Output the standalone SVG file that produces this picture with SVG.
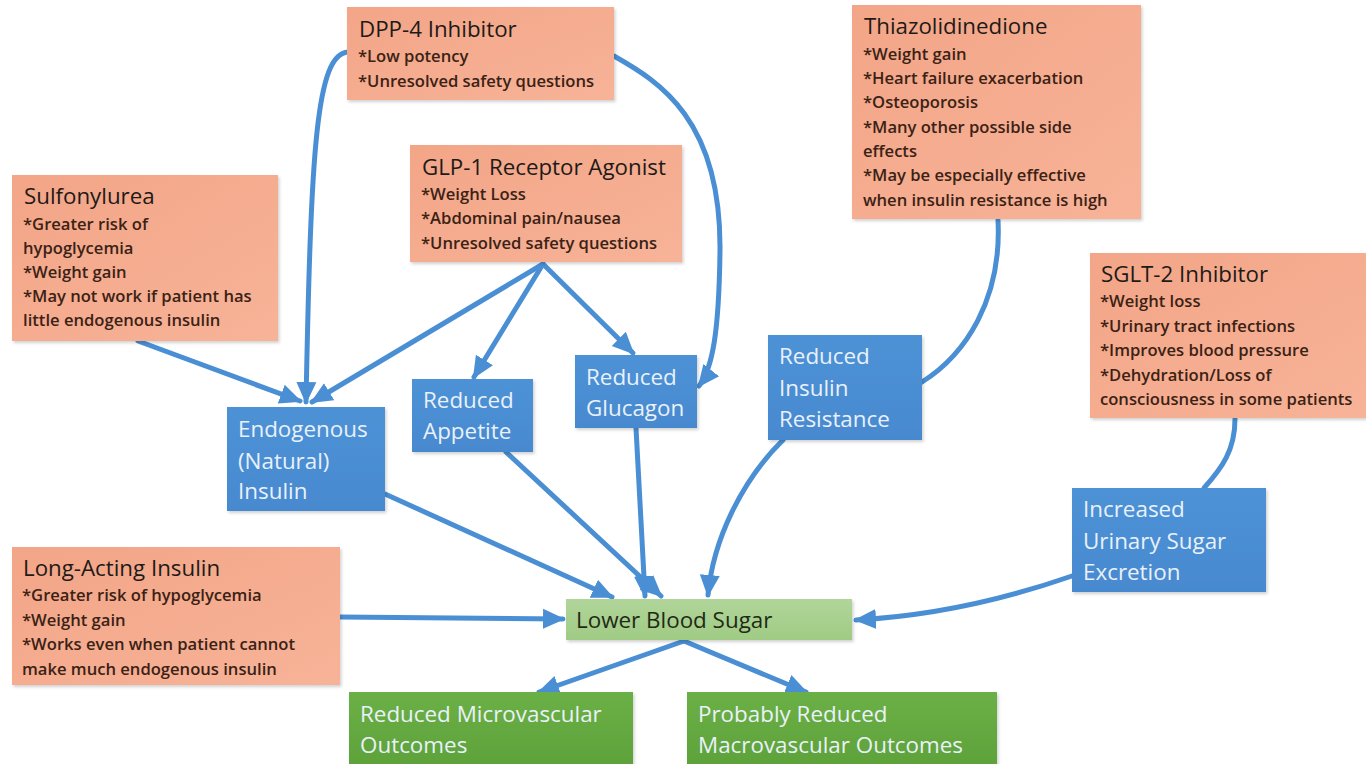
<svg xmlns="http://www.w3.org/2000/svg" width="1366" height="764" viewBox="0 0 1366 764">
  <defs>
    <linearGradient id="orangeFill" x1="0" y1="0" x2="1" y2="1">
      <stop offset="0" stop-color="#f3a587"/>
      <stop offset="1" stop-color="#f7b398"/>
    </linearGradient>
    <linearGradient id="blueFill" x1="0" y1="0" x2="0" y2="1">
      <stop offset="0" stop-color="#4e92d6"/>
      <stop offset="1" stop-color="#4789cf"/>
    </linearGradient>
    <linearGradient id="lightGreenFill" x1="0" y1="0" x2="0" y2="1">
      <stop offset="0" stop-color="#b1d59a"/>
      <stop offset="1" stop-color="#9fcb84"/>
    </linearGradient>
    <linearGradient id="greenFill" x1="0" y1="0" x2="0" y2="1">
      <stop offset="0" stop-color="#6bb046"/>
      <stop offset="1" stop-color="#5ea23a"/>
    </linearGradient>
    <filter id="shadow" x="-5%" y="-5%" width="112%" height="115%">
      <feDropShadow dx="1.5" dy="2" stdDeviation="1.5" flood-color="#000" flood-opacity="0.18"/>
    </filter>
    <marker id="arrow" markerUnits="userSpaceOnUse" markerWidth="24" markerHeight="22" refX="20" refY="11" orient="auto">
      <path d="M0,1 L22,11 L0,21 Z" fill="#4a8fd4"/>
    </marker>
  </defs>
  <style>
    .orange { fill: url(#orangeFill); filter: url(#shadow); }
    .blue { fill: url(#blueFill); filter: url(#shadow); }
    .lgreen { fill: url(#lightGreenFill); filter: url(#shadow); }
    .green { fill: url(#greenFill); filter: url(#shadow); }
    text { font-family: "Open Sans", "Liberation Sans", sans-serif; }
    .title { font-size: 22.3px; fill: #1e1a18; }
    .note { font-size: 16.6px; font-weight: 600; fill: #3b2215; }
    .label { font-size: 22.4px; fill: #e9f1fa; }
    .dark { font-size: 22.4px; fill: #1f2a16; }
    .conn { fill: none; stroke: #4a8fd4; stroke-width: 5; stroke-linecap: round; marker-end: url(#arrow); }
    .conn-plain { fill: none; stroke: #4a8fd4; stroke-width: 5; stroke-linecap: round; }
  </style>

  <rect width="1366" height="764" fill="#ffffff"/>

  <g id="connectors">
    <!-- DPP-4 to endogenous insulin and reduced glucagon -->
    <path class="conn" d="M348,52 C316,54 311,150 306,402"/>
    <path class="conn" d="M614,56 C660,82 721,120 720,250 C719,330 713,368 699,386"/>
    <!-- GLP-1 fan-out -->
    <path class="conn" d="M543,264 L312,402"/>
    <path class="conn" d="M543,264 L474,377"/>
    <path class="conn" d="M543,264 L633,353"/>
    <!-- Sulfonylurea -->
    <path class="conn" d="M138,341 L300,401"/>
    <!-- Thiazolidinedione to reduced insulin resistance -->
    <path class="conn-plain" d="M998,220 C1002,300 965,355 922,382"/>
    <!-- SGLT-2 to increased urinary sugar excretion -->
    <path class="conn-plain" d="M1235,419 C1235,450 1222,468 1204,488"/>
    <!-- into lower blood sugar -->
    <path class="conn" d="M385,494 L612,597"/>
    <path class="conn" d="M506,452 L661,596"/>
    <path class="conn" d="M636,428 L645,596"/>
    <path class="conn" d="M783,440 C742,480 713,540 708,595"/>
    <path class="conn" d="M1072,576 C1000,601 930,616 856,620"/>
    <path class="conn" d="M340,617 L563,619"/>
    <!-- outcomes -->
    <path class="conn" d="M684,641 L539,692"/>
    <path class="conn" d="M684,641 L806,692"/>
  </g>

  <g id="dpp4">
    <rect class="orange" x="347" y="7" width="267" height="93"/>
    <text class="title" x="359" y="37">DPP-4 Inhibitor</text>
    <text class="note" x="358" y="62">*Low potency</text>
    <text class="note" x="358" y="87">*Unresolved safety questions</text>
  </g>

  <g id="sulfonylurea">
    <rect class="orange" x="12" y="175" width="266" height="166"/>
    <text class="title" x="24" y="204">Sulfonylurea</text>
    <text class="note" x="23" y="230">*Greater risk of</text>
    <text class="note" x="23" y="254">hypoglycemia</text>
    <text class="note" x="23" y="278">*Weight gain</text>
    <text class="note" x="23" y="302">*May not work if patient has</text>
    <text class="note" x="23" y="326">little endogenous insulin</text>
  </g>

  <g id="glp1">
    <rect class="orange" x="410" y="145" width="272" height="117"/>
    <text class="title" x="422" y="175">GLP-1 Receptor Agonist</text>
    <text class="note" x="421" y="200">*Weight Loss</text>
    <text class="note" x="421" y="224">*Abdominal pain/nausea</text>
    <text class="note" x="421" y="249">*Unresolved safety questions</text>
  </g>

  <g id="thiazolidinedione">
    <rect class="orange" x="852" y="5" width="289" height="214"/>
    <text class="title" x="864" y="34">Thiazolidinedione</text>
    <text class="note" x="863" y="60">*Weight gain</text>
    <text class="note" x="863" y="84">*Heart failure exacerbation</text>
    <text class="note" x="863" y="108">*Osteoporosis</text>
    <text class="note" x="863" y="133">*Many other possible side</text>
    <text class="note" x="863" y="157">effects</text>
    <text class="note" x="863" y="181">*May be especially effective</text>
    <text class="note" x="863" y="206">when insulin resistance is high</text>
  </g>

  <g id="sglt2">
    <rect class="orange" x="1090" y="253" width="276" height="165"/>
    <text class="title" x="1101" y="282">SGLT-2 Inhibitor</text>
    <text class="note" x="1100" y="307">*Weight loss</text>
    <text class="note" x="1100" y="332">*Urinary tract infections</text>
    <text class="note" x="1100" y="356">*Improves blood pressure</text>
    <text class="note" x="1100" y="381">*Dehydration/Loss of</text>
    <text class="note" x="1100" y="405">consciousness in some patients</text>
  </g>

  <g id="long-acting-insulin">
    <rect class="orange" x="12" y="547" width="328" height="138"/>
    <text class="title" x="23" y="576">Long-Acting Insulin</text>
    <text class="note" x="22" y="601">*Greater risk of hypoglycemia</text>
    <text class="note" x="22" y="626">*Weight gain</text>
    <text class="note" x="22" y="650">*Works even when patient cannot</text>
    <text class="note" x="22" y="675">make much endogenous insulin</text>
  </g>

  <g id="endogenous-insulin">
    <rect class="blue" x="227" y="407" width="158" height="104"/>
    <text class="label" x="238" y="437">Endogenous</text>
    <text class="label" x="238" y="469">(Natural)</text>
    <text class="label" x="238" y="499">Insulin</text>
  </g>

  <g id="reduced-appetite">
    <rect class="blue" x="412" y="379" width="121" height="73"/>
    <text class="label" x="423" y="408">Reduced</text>
    <text class="label" x="423" y="439">Appetite</text>
  </g>

  <g id="reduced-glucagon">
    <rect class="blue" x="575" y="355" width="122" height="73"/>
    <text class="label" x="586" y="385">Reduced</text>
    <text class="label" x="586" y="416">Glucagon</text>
  </g>

  <g id="reduced-insulin-resistance">
    <rect class="blue" x="768" y="335" width="154" height="105"/>
    <text class="label" x="779" y="364">Reduced</text>
    <text class="label" x="779" y="396">Insulin</text>
    <text class="label" x="779" y="427">Resistance</text>
  </g>

  <g id="urinary-sugar-excretion">
    <rect class="blue" x="1072" y="488" width="194" height="104"/>
    <text class="label" x="1083" y="517">Increased</text>
    <text class="label" x="1083" y="549">Urinary Sugar</text>
    <text class="label" x="1083" y="580">Excretion</text>
  </g>

  <g id="lower-blood-sugar">
    <rect class="lgreen" x="566" y="599" width="286" height="41"/>
    <text class="dark" x="576" y="628">Lower Blood Sugar</text>
  </g>

  <g id="microvascular">
    <rect class="green" x="349" y="692" width="284" height="72"/>
    <text class="label" x="360" y="722">Reduced Microvascular</text>
    <text class="label" x="360" y="753">Outcomes</text>
  </g>

  <g id="macrovascular">
    <rect class="green" x="687" y="692" width="310" height="72"/>
    <text class="label" x="698" y="722">Probably Reduced</text>
    <text class="label" x="698" y="753">Macrovascular Outcomes</text>
  </g>
</svg>
